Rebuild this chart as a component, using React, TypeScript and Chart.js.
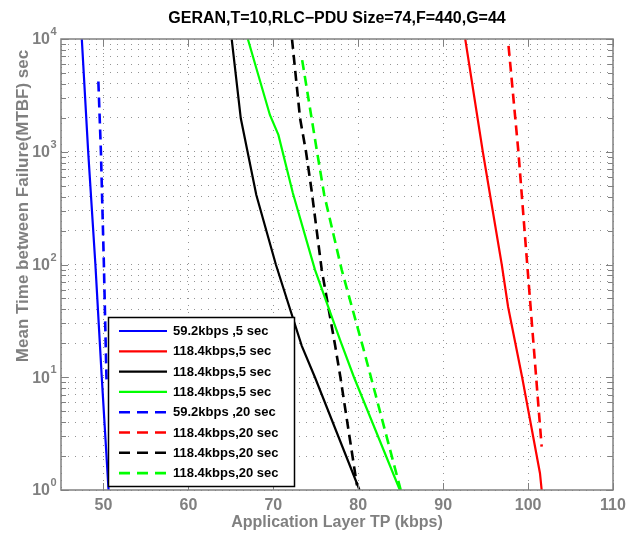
import React, { useEffect, useRef } from 'react';
import { Chart, registerables } from 'chart.js';

Chart.register(...registerables);

const chartTitle = 'GERAN,T=10,RLC\u2212PDU Size=74,F=440,G=44';
const xAxisTitle = 'Application Layer TP (kbps)';
const yAxisTitle = 'Mean Time between Failure(MTBF) sec';

const xMin = 45;
const xMax = 110;
const xTickValues = [50, 60, 70, 80, 90, 100, 110];
const xGridValues = [45, 50, 60, 70, 80, 90, 100, 110];
const yMin = 1;
const yMax = 10000;
const yDecades = [1, 10, 100, 1000, 10000];
const yExponents = ['0', '1', '2', '3', '4'];

const seriesLabels = [
  '59.2kbps ,5 sec',
  '118.4kbps,5 sec',
  '118.4kbps,5 sec',
  '118.4kbps,5 sec',
  '59.2kbps ,20 sec',
  '118.4kbps,20 sec',
  '118.4kbps,20 sec',
  '118.4kbps,20 sec',
];
const seriesColors = ['#0000ff', '#ff0000', '#000000', '#00ff00', '#0000ff', '#ff0000', '#000000', '#00ff00'];
const seriesDashed = [false, false, false, false, true, true, true, true];

const blue5X = [47.45, 48.2, 49.05, 49.8, 50.6];
const blue5Y = [10000, 1000, 100, 10, 1];
const red5X = [92.6, 94.67, 96.9, 97.65, 99.3, 101.4, 101.6];
const red5Y = [10000, 1000, 100, 42, 10, 1.41, 1];
const black5X = [65.1, 66.17, 68.0, 70.3, 73.35, 74.9, 80.15];
const black5Y = [10000, 1980, 414, 100, 19, 10, 1];
const green5X = [67.0, 69.6, 70.6, 72.3, 74.9, 77.9, 79.5, 84.9];
const green5Y = [10000, 2120, 1410, 430, 90, 21, 10, 1];
const blue20X = [49.4, 49.7, 50.05, 50.35, 50.4];
const blue20Y = [4200, 1000, 100, 10, 8.5];
const red20X = [97.7, 98.86, 99.9, 100.95, 101.6];
const red20Y = [8700, 1000, 100, 10, 2.42];
const black20X = [72.2, 73.15, 73.85, 74.5, 75.7, 77.27, 77.9, 79.85];
const black20Y = [10000, 1980, 1000, 458, 90, 19.3, 10, 1.1];
const green20X = [73.4, 75.15, 76.0, 78.05, 80.6, 81.5, 85.0];
const green20Y = [6500, 1000, 414, 90, 18, 10, 1];

const seriesX = [blue5X, red5X, black5X, green5X, blue20X, red20X, black20X, green20X];
const seriesY = [blue5Y, red5Y, black5Y, green5Y, blue20Y, red20Y, black20Y, green20Y];

const FONT = "'Liberation Sans', Arial, Helvetica, sans-serif";
const GRAY = '#808080';
const DASH = [10, 6];
const GRID_COLOR = 'rgba(0,0,0,0.42)';
const GRID_DASH = [1, 6];

function minorTicks(): number[] {
  const out: number[] = [];
  for (let d = 0; d < 4; d++) {
    for (let m = 1; m < 10; m++) out.push(m * Math.pow(10, d));
  }
  out.push(10000);
  return out;
}

const decorPlugin = {
  id: 'decor',
  afterDatasetsDraw(chart: any) {
    const ctx: CanvasRenderingContext2D = chart.ctx;
    const area = chart.chartArea;
    const xs = chart.scales.x;
    const ys = chart.scales.y;
    ctx.save();

    // inner tick marks
    ctx.strokeStyle = GRAY;
    ctx.lineWidth = 1;
    ctx.beginPath();
    for (const v of minorTicks()) {
      const y = Math.round(ys.getPixelForValue(v)) + 0.5;
      const len = yDecades.includes(v) ? 7 : 5;
      ctx.moveTo(area.left, y);
      ctx.lineTo(area.left + len, y);
      ctx.moveTo(area.right, y);
      ctx.lineTo(area.right - len, y);
    }
    for (const v of xTickValues) {
      const x = Math.round(xs.getPixelForValue(v)) + 0.5;
      ctx.moveTo(x, area.bottom);
      ctx.lineTo(x, area.bottom - 7);
      ctx.moveTo(x, area.top);
      ctx.lineTo(x, area.top + 7);
    }
    ctx.stroke();

    // box
    ctx.lineWidth = 1.5;
    ctx.strokeRect(area.left, area.top, area.right - area.left, area.bottom - area.top);

    // x tick labels
    ctx.fillStyle = GRAY;
    ctx.font = `bold 16px ${FONT}`;
    ctx.textAlign = 'center';
    ctx.textBaseline = 'middle';
    for (const v of xTickValues) {
      ctx.fillText(String(v), xs.getPixelForValue(v), area.bottom + 16);
    }

    // y tick labels (10 with superscript)
    for (let i = 0; i < yDecades.length; i++) {
      const y = ys.getPixelForValue(yDecades[i]);
      ctx.font = `bold 16px ${FONT}`;
      ctx.textAlign = 'right';
      ctx.textBaseline = 'middle';
      ctx.fillText('10', area.left - 11, y + 1);
      ctx.font = `bold 11px ${FONT}`;
      ctx.textAlign = 'left';
      ctx.fillText(yExponents[i], area.left - 10.5, y - 7);
    }

    // axis titles
    ctx.font = `bold 16px ${FONT}`;
    ctx.textAlign = 'center';
    ctx.textBaseline = 'middle';
    ctx.fillText(xAxisTitle, (area.left + area.right) / 2, area.bottom + 33);
    ctx.save();
    ctx.translate(23, 206);
    ctx.rotate(-Math.PI / 2);
    ctx.font = `bold 17px ${FONT}`;
    ctx.fillText(yAxisTitle, 0, 0);
    ctx.restore();

    // title
    ctx.fillStyle = '#000000';
    ctx.font = `bold 16px ${FONT}`;
    ctx.fillText(chartTitle, (area.left + area.right) / 2, 19);

    // legend
    const lx = 108.5, ly = 317.5, lw = 186, lh = 169;
    ctx.fillStyle = '#ffffff';
    ctx.fillRect(lx, ly, lw, lh);
    ctx.strokeStyle = '#000000';
    ctx.lineWidth = 1.5;
    ctx.strokeRect(lx, ly, lw, lh);
    ctx.font = `bold 13px ${FONT}`;
    ctx.textAlign = 'left';
    ctx.textBaseline = 'middle';
    chart.data.datasets.forEach((ds: any, i: number) => {
      const y = 331 + i * 20.3;
      ctx.strokeStyle = ds.borderColor;
      ctx.lineWidth = ds.borderWidth;
      ctx.setLineDash(ds.borderDash && ds.borderDash.length ? [11, 7] : []);
      ctx.beginPath();
      ctx.moveTo(119, y);
      ctx.lineTo(167, y);
      ctx.stroke();
      ctx.setLineDash([]);
      ctx.fillStyle = '#000000';
      ctx.fillText(ds.label, 173, y + 0.5);
    });

    ctx.restore();
  },
};

export default function App() {
  const canvasRef = useRef<HTMLCanvasElement | null>(null);

  useEffect(() => {
    if (!canvasRef.current) return;
    const datasets = seriesLabels.map((label, i) => ({
      label,
      data: seriesX[i].map((x, j) => ({ x, y: seriesY[i][j] })),
      borderColor: seriesColors[i],
      backgroundColor: seriesColors[i],
      borderWidth: seriesDashed[i] ? 2.6 : 2.2,
      borderDash: seriesDashed[i] ? DASH : [],
      pointRadius: 0,
      tension: 0,
      fill: false,
    }));
    const chart = new Chart(canvasRef.current, {
      type: 'line',
      data: { datasets },
      options: {
        responsive: false,
        animation: false,
        events: [],
        layout: { padding: { left: 61, top: 39, right: 14, bottom: 43 } },
        plugins: {
          legend: { display: false },
          title: { display: false },
          tooltip: { enabled: false },
        },
        scales: {
          x: {
            type: 'linear',
            min: xMin,
            max: xMax,
            afterBuildTicks: (s: any) => {
              s.ticks = xGridValues.map((v) => ({ value: v }));
            },
            ticks: { display: false },
            grid: { color: GRID_COLOR, lineWidth: 1, drawTicks: false },
            border: { display: false, dash: GRID_DASH },
          },
          y: {
            type: 'logarithmic',
            min: yMin,
            max: yMax,
            afterBuildTicks: (s: any) => {
              s.ticks = minorTicks().map((v) => ({ value: v, major: yDecades.includes(v) }));
            },
            ticks: { display: false },
            grid: { color: GRID_COLOR, lineWidth: 1, drawTicks: false },
            border: { display: false, dash: GRID_DASH },
          },
        },
      } as any,
      plugins: [decorPlugin],
    });
    return () => chart.destroy();
  }, []);

  return (
    <div style={{ position: 'fixed', left: 0, top: 0, width: 627, height: 533, background: '#ffffff' }}>
      <canvas ref={canvasRef} width={627} height={533} style={{ width: 627, height: 533 }} />
    </div>
  );
}
